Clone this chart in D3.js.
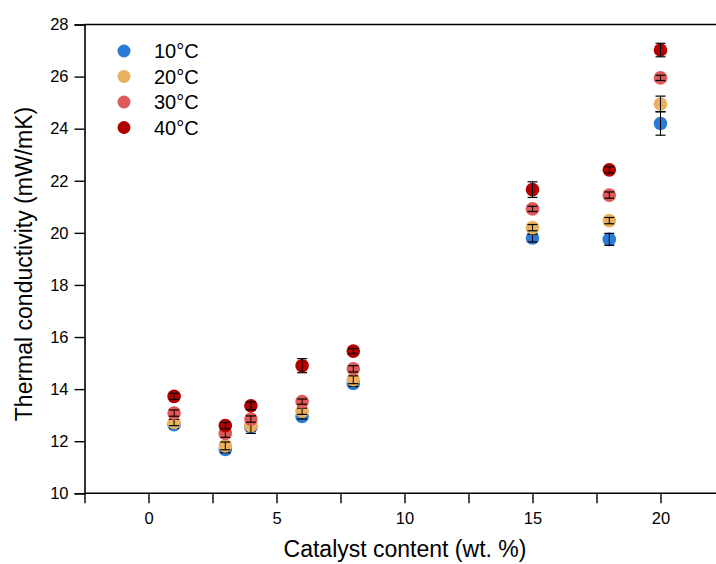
<!DOCTYPE html>
<html><head><meta charset="utf-8">
<script src="https://cdn.jsdelivr.net/npm/d3@7"></script>
<style>body{margin:0;background:#fff}svg{display:block}text{font-family:"Liberation Sans",Arial,sans-serif;fill:#000}</style>
</head><body><svg id="c" width="716" height="564"></svg>
<script>
const catalyst = [1, 3, 4, 6, 8, 15, 18, 20];
const seriesNames = ["10°C", "20°C", "30°C", "40°C"];
const seriesColors = ["#2b7bd6", "#e9b15c", "#e05858", "#b20000"];
const k10 = [12.63, 11.68, 12.55, 12.95, 14.22, 19.8, 19.75, 24.2];
const k20 = [12.72, 11.82, 12.6, 13.15, 14.36, 20.2, 20.47, 24.95];
const k30 = [13.08, 12.3, 12.85, 13.52, 14.78, 20.92, 21.45, 25.95];
const k40 = [13.72, 12.6, 13.36, 14.9, 15.46, 21.66, 22.42, 27.02];
const e10 = [0.12, 0.12, 0.15, 0.1, 0.12, 0.15, 0.23, 0.45];
const e20 = [0.12, 0.15, 0.3, 0.12, 0.15, 0.12, 0.12, 0.3];
const e30 = [0.12, 0.15, 0.12, 0.1, 0.12, 0.1, 0.12, 0.1];
const e40 = [0.12, 0.12, 0.15, 0.27, 0.1, 0.3, 0.12, 0.26];
const xTicks = [-2.5, 0, 2.5, 5, 7.5, 10, 12.5, 15, 17.5, 20];
const xLabels = [0, 5, 10, 15, 20];
const yTicks = [10, 12, 14, 16, 18, 20, 22, 24, 26, 28];

const values = [k10, k20, k30, k40];
const errors = [e10, e20, e30, e40];

const svg = d3.select("#c");
const x = d3.scaleLinear().domain([-2.5, 22.5]).range([84.5, 724.5]);
const y = d3.scaleLinear().domain([10, 28]).range([493.3, 24.5]);

// frame top line
svg.append("line").attr("x1", x(-2.5)).attr("x2", 716).attr("y1", y(28)).attr("y2", y(28))
  .attr("stroke", "#000").attr("stroke-width", 1.6);

const xAxis = svg.append("g").attr("transform", `translate(0,${y(10)})`)
  .call(d3.axisBottom(x).tickValues(xTicks).tickSize(10).tickPadding(9)
    .tickFormat(d => xLabels.includes(d) ? d : ""));
const yAxis = svg.append("g").attr("transform", `translate(${x(-2.5)},0)`)
  .call(d3.axisLeft(y).tickValues(yTicks).tickSize(10).tickPadding(6));
[xAxis, yAxis].forEach(g => {
  g.select(".domain").attr("stroke", "#000").attr("stroke-width", 1.6);
  g.selectAll(".tick line").attr("stroke", "#000").attr("stroke-width", 1.4);
  g.selectAll(".tick text").attr("font-size", 16.5).attr("font-family", "Liberation Sans, Arial, sans-serif");
});
xAxis.select(".domain").attr("d", `M${x(-2.5)},0H716`);

// series
values.forEach((vals, si) => {
  const g = svg.append("g");
  g.selectAll("circle").data(catalyst).join("circle")
    .attr("cx", d => x(d)).attr("cy", (d, i) => y(vals[i])).attr("r", 6.8)
    .attr("fill", seriesColors[si]);
  const eb = g.selectAll("g.eb").data(catalyst).join("g").attr("class", "eb");
  eb.append("line").attr("x1", d => x(d)).attr("x2", d => x(d))
    .attr("y1", (d, i) => y(vals[i] + errors[si][i])).attr("y2", (d, i) => y(vals[i] - errors[si][i]))
    .attr("stroke", "#000").attr("stroke-width", 1);
  [1, -1].forEach(s => {
    eb.append("line").attr("x1", d => x(d) - 5).attr("x2", d => x(d) + 5)
      .attr("y1", (d, i) => y(vals[i] + s * errors[si][i])).attr("y2", (d, i) => y(vals[i] + s * errors[si][i]))
      .attr("stroke", "#000").attr("stroke-width", 1.2);
  });
});

// legend
const leg = svg.append("g");
seriesNames.forEach((n, i) => {
  leg.append("circle").attr("cx", 124).attr("cy", 51 + i * 25.5).attr("r", 6.5).attr("fill", seriesColors[i]);
  leg.append("text").attr("x", 154).attr("y", 51 + i * 25.5).attr("dy", "0.35em")
    .attr("font-size", 20).text(n);
});

// axis titles
svg.append("text").attr("x", 405).attr("y", 557).attr("text-anchor", "middle")
  .attr("font-size", 23).text("Catalyst content (wt. %)");
svg.append("text").attr("transform", "translate(32,264) rotate(-90)").attr("text-anchor", "middle")
  .attr("font-size", 23).text("Thermal conductivity (mW/mK)");
</script></body></html>
